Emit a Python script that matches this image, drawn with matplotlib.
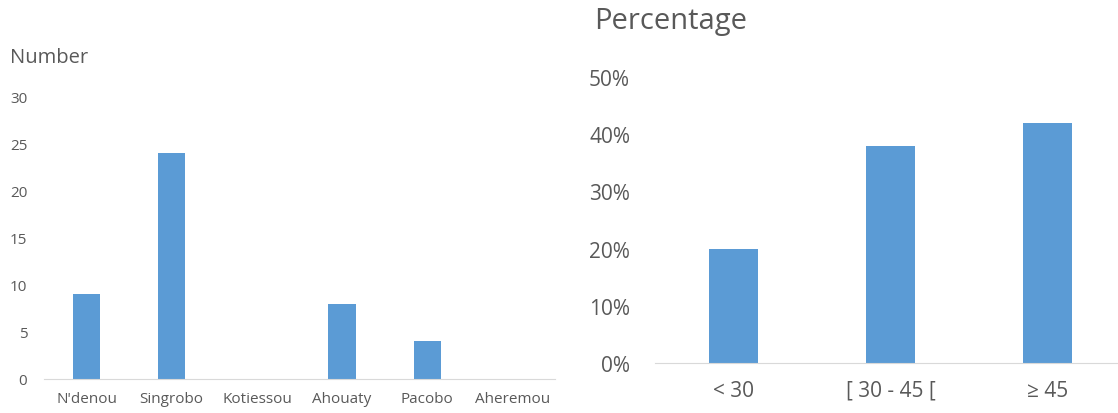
import matplotlib.pyplot as plt
from matplotlib.ticker import FuncFormatter

# left chart: number per locality
villages = ["N'denou", "Singrobo", "Kotiessou", "Ahouaty", "Pacobo", "Aheremou"]
counts = [9, 24, 0, 8, 4, 0]

# right chart: percentage per age class
age_classes = ["< 30", "[ 30 - 45 [", "\u2265 45"]
shares = [0.20, 0.38, 0.42]

bar_color = "#5B9BD5"
text_color = "#595959"
line_color = "#D9D9D9"

plt.rcParams['font.family'] = ['Open Sans', 'DejaVu Sans']

W, H = 1118, 414
fig = plt.figure(figsize=(W / 100, H / 100), dpi=100)

ax1 = fig.add_axes([44 / W, 1 - 380 / H, (555 - 44) / W, (380 - 98) / H])
ax1.bar(range(len(villages)), counts, width=0.32, color=bar_color)
ax1.set_xlim(-0.5, len(villages) - 0.5)
ax1.set_ylim(0, 30)
ax1.set_yticks(range(0, 31, 5))
ax1.set_xticks(range(len(villages)))
ax1.set_xticklabels(villages)
ax1.tick_params(axis='both', length=0, colors=text_color, labelsize=11)
ax1.tick_params(axis='y', pad=12)
ax1.tick_params(axis='x', pad=9)
for s in ['top', 'right', 'left']:
    ax1.spines[s].set_visible(False)
ax1.spines['bottom'].set_color(line_color)
fig.text(10 / W, 1 - 58 / H, "Number", color=text_color, fontsize=14.5, va='center', ha='left')

ax2 = fig.add_axes([655 / W, 1 - 364 / H, (W - 655) / W, (364 - 78) / H])
ax2.bar(range(len(age_classes)), shares, width=0.31, color=bar_color)
ax2.set_xlim(-0.5, 2.45)
ax2.set_ylim(0, 0.5)
ax2.set_yticks([0, 0.1, 0.2, 0.3, 0.4, 0.5])
ax2.yaxis.set_major_formatter(FuncFormatter(lambda v, p: "{:.0f}%".format(v * 100)))
ax2.set_xticks(range(len(age_classes)))
ax2.set_xticklabels(age_classes)
ax2.tick_params(axis='both', length=0, colors=text_color, labelsize=15)
ax2.tick_params(axis='y', pad=18)
ax2.tick_params(axis='x', pad=12)
for s in ['top', 'right', 'left']:
    ax2.spines[s].set_visible(False)
ax2.spines['bottom'].set_color(line_color)
fig.text(594 / W, 1 - 21 / H, "Percentage", color=text_color, fontsize=21, va='center', ha='left')

fig.savefig("out.png", dpi=100)
